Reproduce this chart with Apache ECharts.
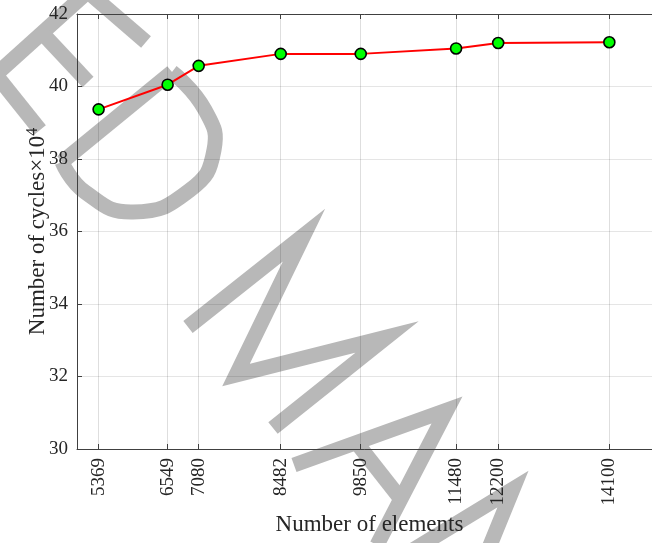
<!DOCTYPE html>
<html>
<head>
<meta charset="utf-8">
<script src="https://cdn.jsdelivr.net/npm/echarts@6/dist/echarts.min.js"></script>
<style>html,body{margin:0;padding:0;background:#fff}#c{width:652px;height:543px}</style>
</head>
<body>
<div id="c"></div>
<script>
var elements = [5369, 6549, 7080, 8482, 9850, 11480, 12200, 14100];
var cycles = [39.37, 40.05, 40.57, 40.90, 40.90, 41.05, 41.20, 41.22];
var yTicks = [30, 32, 34, 36, 38, 40, 42];

var FONT = '"Liberation Serif", "Times New Roman", serif';
var AX = '#404040';
var WM = '#b8b8b8';

function stroke(points, w) {
  return { type: 'polyline', z: -10, silent: true,
    shape: { points: points },
    style: { stroke: WM, lineWidth: w || 15, fill: null, lineCap: 'butt', lineJoin: 'miter' } };
}
function curve(points, w) {
  return { type: 'polyline', z: -10, silent: true,
    shape: { points: points, smooth: 0.5 },
    style: { stroke: WM, lineWidth: w || 15, fill: null } };
}

var watermark = [
  // E
  stroke([[-8, 78], [92, -12]]),
  stroke([[-4, 75], [40, 130]]),
  stroke([[44, 35], [88, 82]]),
  stroke([[88, -8], [146, 42]]),
  // D
  stroke([[62, 162], [172, 72]]),
  curve([[172, 72], [205, 110], [214, 150], [190, 190], [133, 212], [85, 192], [62, 162]]),
  // M
  stroke([[188, 327], [304, 235], [236, 375], [387, 337], [273, 428]]),
  // A
  stroke([[294, 465], [447, 410], [377, 545]]),
  stroke([[356, 442], [400, 498]]),
  // A
  stroke([[380, 570], [513, 489], [480, 570]])
];

var chart = echarts.init(document.getElementById('c'), null, { renderer: 'canvas' });
chart.setOption({
  backgroundColor: '#fff',
  animation: false,
  graphic: watermark,
  grid: { left: 77, top: 14, width: 585, height: 435, containLabel: false, outerBoundsMode: 'none' },
  xAxis: [{
    type: 'value', position: 'bottom', min: 5000, max: 15000,
    name: 'Number of elements', nameLocation: 'middle', nameGap: 64,
    nameTextStyle: { fontFamily: FONT, fontSize: 23, color: '#262626' },
    axisLine: { show: true, lineStyle: { color: AX, width: 1 } },
    axisTick: { show: true, inside: true, length: 5, customValues: elements, lineStyle: { color: AX } },
    axisLabel: { show: true, customValues: elements, rotate: 90, margin: 9,
      fontFamily: FONT, fontSize: 19, color: '#262626',
      formatter: function (v) { return String(v); } },
    splitLine: { show: true, lineStyle: { color: 'rgba(0,0,0,0.13)', width: 1 } }
  }, {
    type: 'value', position: 'top', min: 5000, max: 15000,
    axisLine: { show: true, onZero: false, lineStyle: { color: AX, width: 1 } },
    axisTick: { show: true, inside: true, length: 5, customValues: elements, lineStyle: { color: AX } },
    axisLabel: { show: false },
    splitLine: { show: false }
  }],
  yAxis: [{
    type: 'value', min: 30, max: 42, interval: 2,
    name: '{a|Number of cycles\u00d710}{s|4}', nameLocation: 'middle', nameGap: 26, nameRotate: 90,
    nameMoveOverlap: false,
    nameTextStyle: { fontFamily: FONT, fontSize: 23, color: '#262626',
      rich: { a: { fontFamily: FONT, fontSize: 23, color: '#262626' },
              s: { fontFamily: FONT, fontSize: 16, color: '#262626', verticalAlign: 'top', padding: [0, 0, 10, 0] } } },
    axisLine: { show: true, lineStyle: { color: AX, width: 1 } },
    axisTick: { show: true, inside: true, length: 5, lineStyle: { color: AX } },
    axisLabel: { margin: 9, fontFamily: FONT, fontSize: 19, color: '#262626',
      formatter: function (v) { return yTicks.indexOf(v) >= 0 ? String(v) : ''; } },
    splitLine: { show: true, lineStyle: { color: 'rgba(0,0,0,0.1)', width: 1 } }
  }],
  series: [{
    type: 'line',
    data: elements.map(function (x, i) { return [x, cycles[i]]; }),
    lineStyle: { color: '#ff0000', width: 2 },
    symbol: 'circle', symbolSize: 11,
    itemStyle: { color: '#00ff00', borderColor: '#000', borderWidth: 1.6 },
    z: 5
  }]
});
</script>
</body>
</html>
